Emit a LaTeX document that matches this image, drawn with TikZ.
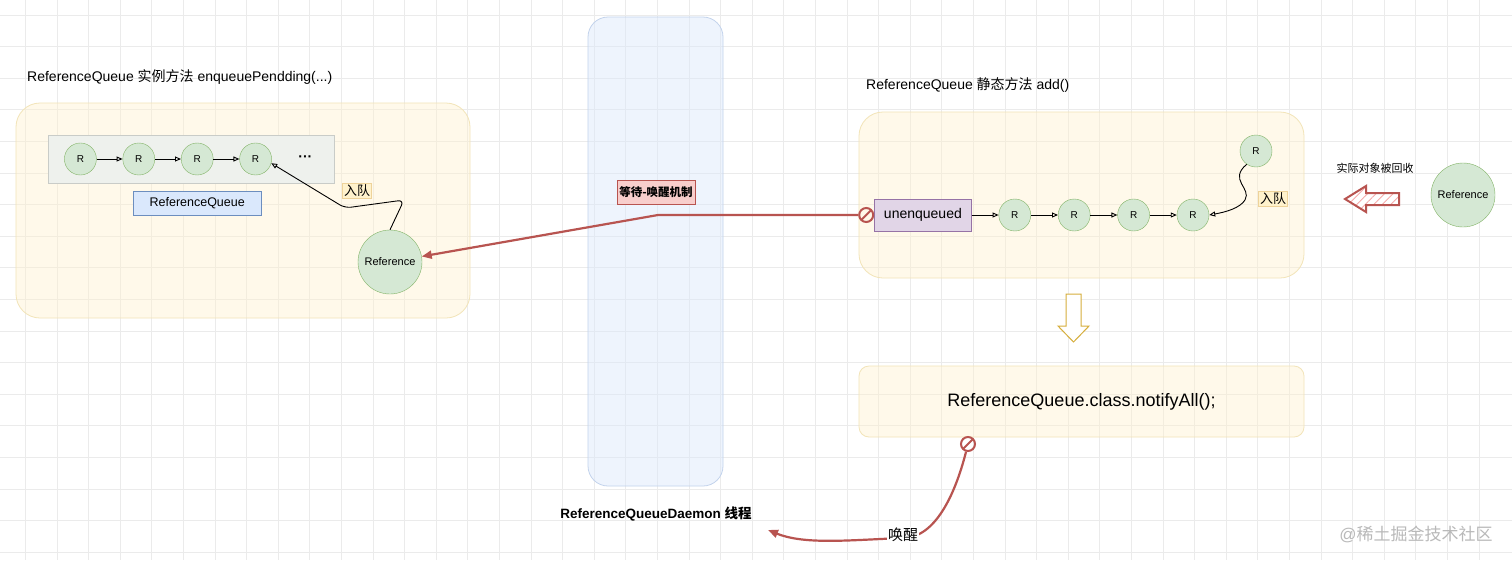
\documentclass[tikz,border=0pt]{standalone}
\usepackage{fontspec}
\setmainfont{Liberation Sans}
\newfontfamily\cjk{Noto Sans CJK SC}
\usetikzlibrary{matrix,positioning,arrows.meta,patterns.meta}

\definecolor{boxyel}{HTML}{FFF2CC}
\definecolor{lineyel}{HTML}{F2E4B8}
\definecolor{rgreen}{HTML}{D5E8D4}
\definecolor{rgreenline}{HTML}{82B366}
\definecolor{qgray}{HTML}{EEF1ED}
\definecolor{qgrayline}{HTML}{C9CCC8}
\definecolor{lblue}{HTML}{DAE8FC}
\definecolor{lblueline}{HTML}{6C8EBF}
\definecolor{colblueline}{HTML}{C3D3EC}
\definecolor{wred}{HTML}{B85450}
\definecolor{lred}{HTML}{F8CECC}
\definecolor{hatchred}{HTML}{F4AAAA}
\definecolor{lpurple}{HTML}{E1D5E7}
\definecolor{purpleline}{HTML}{9673A6}
\definecolor{tagyel}{HTML}{FFF2CC}
\definecolor{tagline}{HTML}{EED39A}
\definecolor{arrowyel}{HTML}{D6AE3C}
\definecolor{gridgray}{HTML}{EBEBEB}

\newcommand{\fsz}[1]{\fontsize{#1}{#1}\selectfont}

\tikzstyle{panel} = [draw=lineyel, fill=boxyel, fill opacity=0.4, text opacity=1, rounded corners=24pt, line width=0.8pt]
\tikzstyle{colbox} = [draw=colblueline, fill=lblue, fill opacity=0.45, rounded corners=20pt, line width=0.8pt]
\tikzstyle{rnode} = [circle, anchor=center, minimum size=32pt, inner sep=0pt, draw=rgreenline, fill=rgreen, font=\fsz{10}]
\tikzstyle{refnode} = [circle, minimum size=64pt, inner sep=0pt, draw=rgreenline, fill=rgreen, font=\fsz{11}]
\tikzstyle{dots} = [draw=none, fill=none, minimum size=0pt, font=\bfseries\fsz{14}]
\tikzstyle{uqnode} = [rectangle, draw=purpleline, fill=lpurple, minimum width=97pt, minimum height=32pt, font=\fsz{14}]
\tikzstyle{qlabel} = [rectangle, draw=lblueline, fill=lblue, minimum width=128pt, minimum height=24pt, font=\fsz{12.5}]
\tikzstyle{tag} = [draw=tagline, fill=tagyel, inner sep=1.5pt, font=\cjk\fsz{13}]
\tikzstyle{waittag} = [draw=wred, fill=lred, minimum width=76pt, minimum height=24pt, inner sep=2pt, font=\cjk\bfseries\fsz{11.5}]
\tikzstyle{link} = [-{Triangle[open,length=6pt,width=5pt]}, line width=0.9pt, black]
\tikzstyle{wake} = [draw=wred, line width=2.2pt, -{Triangle[length=10pt,width=8pt]}]
\tikzstyle{nogo} = [circle, draw=wred, line width=2pt, minimum size=14pt, inner sep=0pt,
  path picture={\draw[wred, line width=2pt] (path picture bounding box.south west) -- (path picture bounding box.north east);}]

\begin{document}
\begin{tikzpicture}[x=1pt, y=-1pt]
\useasboundingbox (0,0) rectangle (1512,560);
\fill[white] (0,0) rectangle (1512,560);
% background grid
\foreach \gx in {0,...,46} \draw[gridgray, line width=0.8pt] ({25.3+31.6*\gx},0) -- ++(0,560);
\foreach \gy in {0,...,17} \draw[gridgray, line width=0.8pt] (0,{15+31.6*\gy}) -- ++(1512,0);

% panels
\draw[panel] (16,103) rectangle (470,318);
\draw[panel] (859,112) rectangle (1304,278);
\draw[colbox] (588,17) rectangle (723,486);

% enqueuePendding side
\node[anchor=west, inner sep=0pt, font=\fsz{14}] (ltitle) at (27,77) {ReferenceQueue {\cjk 实例方法} enqueuePendding(...)};
\draw[draw=qgrayline, fill=qgray] (48,135) rectangle (334,183);
\matrix (lq) at (64,159) [matrix of nodes, ampersand replacement=\&, anchor=west, inner sep=0pt,
  nodes={rnode}, column sep=26pt] {
  R \& R \& R \& R \& |[dots]| ··· \\
};
\foreach \a/\b in {1/2,2/3,3/4} \draw[link] (lq-1-\a) -- (lq-1-\b);
\node[qlabel, below=16pt of lq-1-3] (qname) {ReferenceQueue};
\node[refnode] (refl) at (390,262) {Reference};
\node[tag] (lin) at (357,191) {入队};
\draw[link, rounded corners=6pt] (refl.north) -- (404,200) -- (345,208) -- (lq-1-4.-15);

% wait / notify
\node[waittag] (wait) at (656,192) {等待-唤醒机制};

% add() side
\node[anchor=west, inner sep=0pt, font=\fsz{14}] (rtitle) at (866,85) {ReferenceQueue {\cjk 静态方法} add()};
\matrix (rq) at (874,215) [matrix of nodes, ampersand replacement=\&, anchor=west, inner sep=0pt,
  nodes={rnode}, column sep=27pt] {
  |[uqnode]| unenqueued \& R \& R \& R \& R \\
};
\foreach \a/\b in {1/2,2/3,3/4,4/5} \draw[link] (rq-1-\a) -- (rq-1-\b);
\node[rnode] (rtop) at (1256,151) {R};
\node[tag] (rin) at (1273,199) {入队};
\draw[link] (rtop.-125) .. controls (1228,180) and (1252,188) .. (1245,200) .. controls (1240,208) and (1226,212) .. (rq-1-5.east);

\node[refnode] (refr) at (1463,195) {Reference};
\node[font=\cjk\fsz{11}] (gone) at (1375,168) {实际对象被回收};
\draw[draw=wred, line width=2pt, preaction={fill=white}, pattern={Lines[angle=45,distance=6pt,line width=1pt]}, pattern color=hatchred]
  (1345,199) -- (1366,186) -- (1366,193) -- (1399,193) -- (1399,205) -- (1366,205) -- (1366,212) -- cycle;

\draw[draw=arrowyel, fill=white, line width=1pt]
  (1066,294) -- (1081,294) -- (1081,326) -- (1089,326) -- (1073.5,342) -- (1058,326) -- (1066,326) -- cycle;
\node[panel, rounded corners=10pt, minimum width=445pt, minimum height=71pt, font=\fsz{18}] (notify) at (1081.5,401.5) {ReferenceQueue.class.notifyAll();};

% red connectors
\node[nogo, left=0pt of rq-1-1] (stop1) {};
\coordinate (bend) at (658,215);
\draw[wake] (stop1) -- (bend) -- (refl);

\node[nogo] (stop2) at (968,444) {};
\coordinate (wend) at (768,530);
\draw[wake] (stop2) .. controls (955,495) and (935,538) .. (903,538) .. controls (850,540) and (805,545) .. (wend);
\node[font=\cjk\fsz{15}, fill=white, inner sep=1pt] (wk) at (903,535) {唤醒};

\node[font=\bfseries\fsz{13.5}] (daemon) at (656,514) {ReferenceQueueDaemon {\cjk 线程}};
\node[font=\fsz{17}, text=gray!55] (mark) at (1416,534) {@{\cjk 稀土掘金技术社区}};
\end{tikzpicture}
\end{document}
